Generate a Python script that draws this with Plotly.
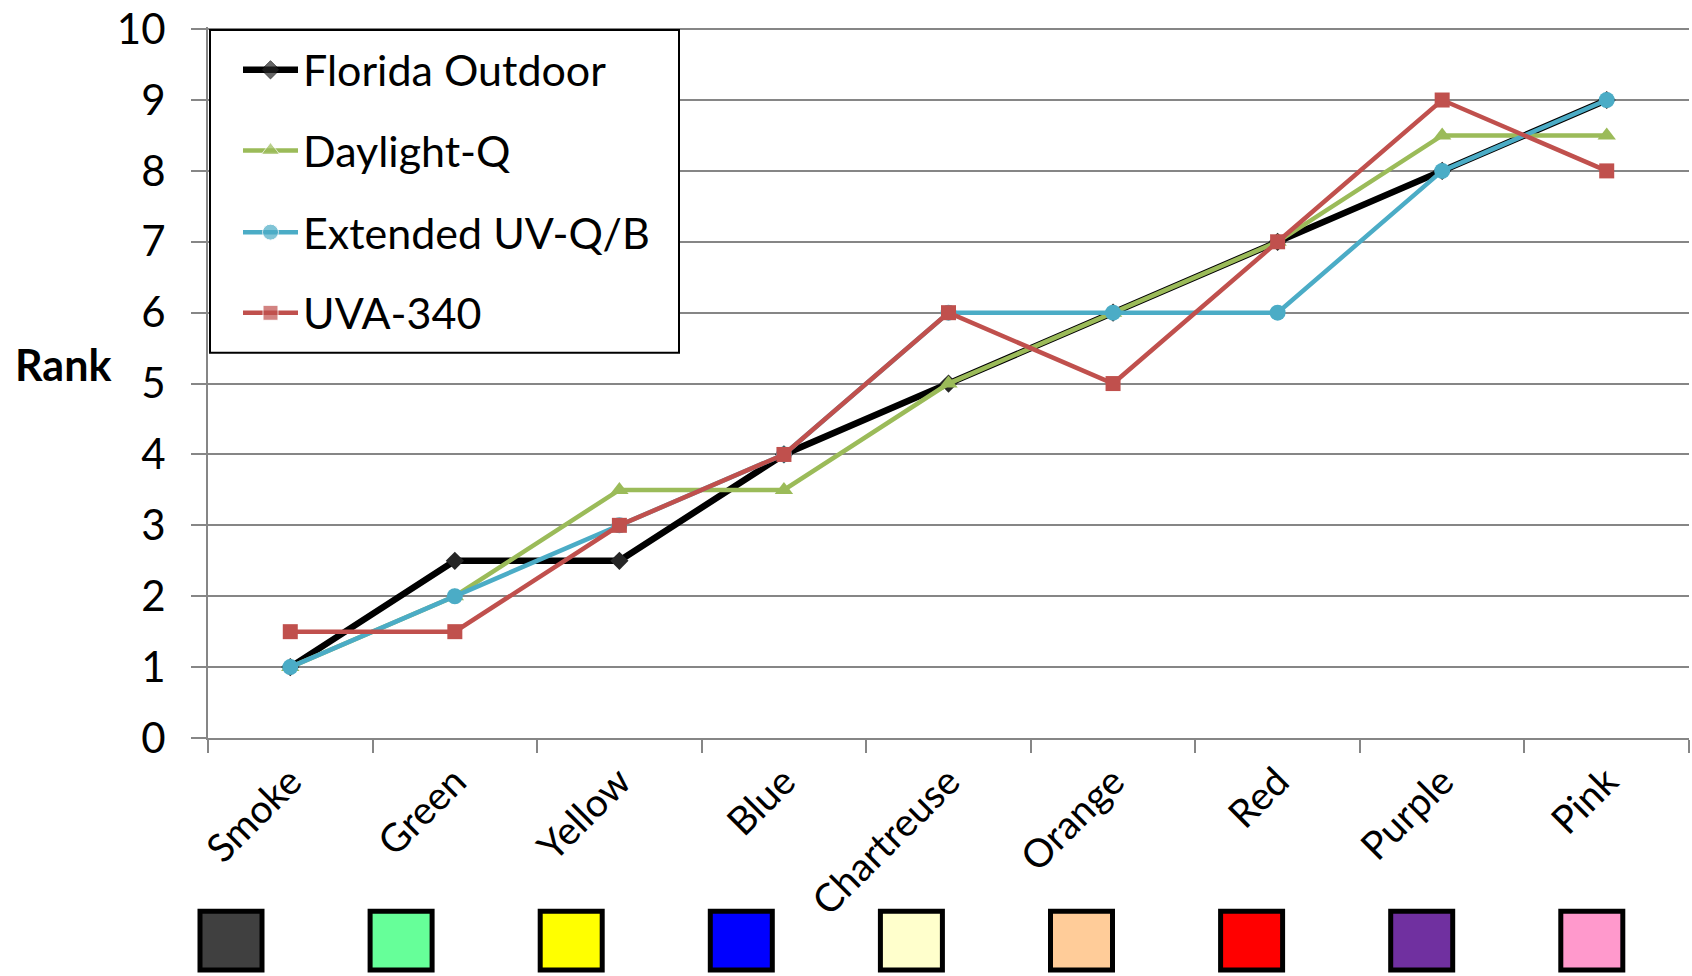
import plotly.graph_objects as go

# Sample colours ranked by fading under each exposure method
categories = ["Smoke", "Green", "Yellow", "Blue", "Chartreuse",
              "Orange", "Red", "Purple", "Pink"]
swatch_colors = ["#404040", "#66FF99", "#FFFF00", "#0000FF", "#FFFFCC",
                 "#FFCC99", "#FF0000", "#7030A0", "#FF99CC"]

florida_outdoor = [1, 2.5, 2.5, 4, 5, 6, 7, 8, 9]
daylight_q = [1, 2, 3.5, 3.5, 5, 6, 7, 8.5, 8.5]
extended_uv_qb = [1, 2, 3, 4, 6, 6, 6, 8, 9]
uva_340 = [1.5, 1.5, 3, 4, 6, 5, 7, 9, 8]

series_names = ["Florida Outdoor", "Daylight-Q", "Extended UV-Q/B", "UVA-340"]

y_ticks = list(range(0, 11))

FONT = "Lato"
W, H = 1692, 976
ML, MR, MT, MB = 208, 3, 24, 238
PW, PH = W - ML - MR, H - MT - MB
N = len(categories)
Y_TOP = 10.03  # a little headroom so the gridline at 10 is drawn


def dx(px):
    """Pixel column -> position on the category axis."""
    return -0.5 + (px - ML) / PW * N


def dy(py):
    """Pixel row -> position on the rank axis."""
    return (H - MB - py) / PH * Y_TOP


styles = [
    # line colour, line width, marker symbol, marker size, marker colour
    ("#000000", 6.5, "diamond", 14, "#262626"),
    ("#9BBB59", 4.5, "triangle-up", 16, "#9BBB59"),
    ("#4BACC6", 4.5, "circle", 16, "#4BACC6"),
    ("#C0504D", 4.5, "square", 15, "#C0504D"),
]
series_values = [florida_outdoor, daylight_q, extended_uv_qb, uva_340]

fig = go.Figure()
for name, vals, (col, lw, sym, ms, mcol) in zip(series_names, series_values, styles):
    fig.add_trace(go.Scatter(
        x=categories, y=vals, name=name, mode="lines+markers",
        showlegend=False,
        line=dict(color=col, width=lw),
        marker=dict(symbol=sym, size=ms, color=mcol),
    ))

# Legend: white framed box sitting above the gridlines, keys drawn on a
# pixel-scaled overlay subplot so they render on top of the box
LEG_X0, LEG_X1, LEG_Y0, LEG_Y1 = 210, 679, 27, 351
KEY_X0, KEY_X1, TEXT_X = 243, 298, 301
ROW_Y = [67, 148, 230, 311]

shapes = [dict(
    type="rect", xref="x", yref="y",
    x0=dx(LEG_X0), x1=dx(LEG_X1), y0=dy(LEG_Y1), y1=dy(LEG_Y0),
    fillcolor="white", line=dict(color="#000000", width=2),
    layer="between",
)]
annotations = []
for name, (col, lw, sym, ms, mcol), yc in zip(series_names, styles, ROW_Y):
    fig.add_trace(go.Scatter(
        x=[KEY_X0, (KEY_X0 + KEY_X1) / 2, KEY_X1], y=[yc, yc, yc],
        xaxis="x2", yaxis="y2", mode="lines+markers", showlegend=False,
        hoverinfo="skip", cliponaxis=False,
        line=dict(color=col, width=lw),
        marker=dict(symbol=sym, size=[0, ms, 0], color=mcol),
    ))
    annotations.append(dict(
        text=name, xref="paper", yref="paper",
        x=(TEXT_X - ML) / PW, y=(H - MB - yc) / PH,
        xanchor="left", yanchor="middle", showarrow=False,
        font=dict(family=FONT, size=43, color="#000000"),
    ))

annotations.append(dict(
    text="<b>Rank</b>", xref="paper", yref="paper",
    x=(13 - ML) / PW, y=(H - MB - 363) / PH, xanchor="left", yanchor="middle",
    showarrow=False, font=dict(family=FONT, size=43, color="#000000"),
))

# Colour swatches below the category labels
for i, c in enumerate(swatch_colors):
    cx = 231 + 170.1 * i
    shapes.append(dict(
        type="rect", xref="paper", yref="paper",
        x0=(cx - 31 - ML) / PW, x1=(cx + 31 - ML) / PW,
        y0=(H - MB - 971) / PH, y1=(H - MB - 912) / PH,
        fillcolor=c, line=dict(color="#000000", width=5),
        layer="above",
    ))

fig.update_layout(
    width=W, height=H,
    margin=dict(l=ML, r=MR, t=MT, b=MB),
    paper_bgcolor="white", plot_bgcolor="white",
    font=dict(family=FONT, size=40, color="#000000"),
    shapes=shapes,
    annotations=annotations,
    showlegend=False,
    xaxis=dict(
        type="category", categoryarray=categories, categoryorder="array",
        range=[-0.5, N - 0.5], autorange=False,
        tickson="boundaries", ticks="outside", ticklen=13, tickwidth=2,
        tickcolor="#868686", showgrid=False,
        showline=True, linecolor="#868686", linewidth=2,
        tickangle=-45, tickfont=dict(family=FONT, size=39),
        ticklabelstandoff=3, fixedrange=True,
    ),
    yaxis=dict(
        range=[0, Y_TOP], autorange=False,
        tickvals=y_ticks, ticktext=[str(v) for v in y_ticks],
        ticks="outside", ticklen=15, tickwidth=2, tickcolor="#868686",
        showgrid=True, gridcolor="#868686", gridwidth=2,
        showline=True, linecolor="#868686", linewidth=2,
        tickfont=dict(family=FONT, size=42), ticklabeloverflow="allow",
        zeroline=False, ticklabelstandoff=17, fixedrange=True,
    ),
    xaxis2=dict(overlaying="x", range=[ML, W - MR], autorange=False,
                visible=False, fixedrange=True, type="linear"),
    yaxis2=dict(overlaying="y", range=[H - MB, MT], autorange=False,
                visible=False, fixedrange=True, type="linear"),
)

fig.write_html("out.html")
